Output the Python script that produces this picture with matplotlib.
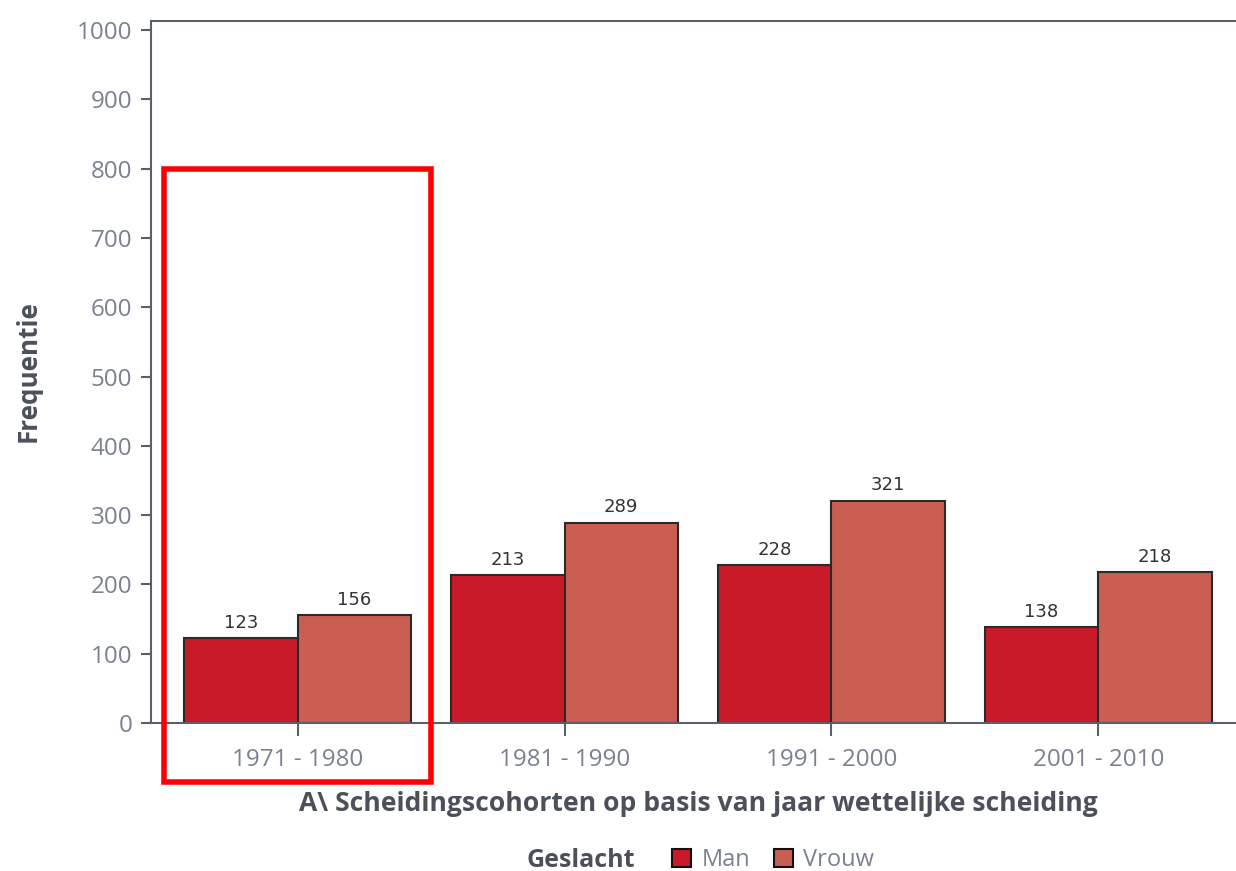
import matplotlib
matplotlib.use("Agg")
import matplotlib.pyplot as plt
from matplotlib.patches import Rectangle, Patch
import numpy as np

categories = ["1971 - 1980", "1981 - 1990", "1991 - 2000", "2001 - 2010"]
man = [123, 213, 228, 138]
vrouw = [156, 289, 321, 218]
series_names = ["Man", "Vrouw"]
yticks = [0, 100, 200, 300, 400, 500, 600, 700, 800, 900, 1000]

c_man = "#C91A2A"
c_vrouw = "#CB5E52"
edge = "#2a2a2a"
tick_col = "#7b8190"
label_col = "#4b505b"
spine_col = "#5a5f69"

fig = plt.figure(figsize=(12.36, 8.71), dpi=100)
ax = fig.add_axes([151/1236, (871-723)/871, (1245-151)/1236, (723-21)/871])

x = np.arange(len(categories))
w = 0.425
b1 = ax.bar(x - w/2, man, w, color=c_man, edgecolor=edge, linewidth=1.5)
b2 = ax.bar(x + w/2, vrouw, w, color=c_vrouw, edgecolor=edge, linewidth=1.5)

for bars, vals in ((b1, man), (b2, vrouw)):
    for r, v in zip(bars, vals):
        ax.text(r.get_x() + r.get_width()/2, v + 9, str(v), ha="center", va="bottom",
                fontsize=13, color="#333333", family="DejaVu Sans")

ax.set_xlim(-0.55, 3.55)
ax.set_ylim(0, 1013)
ax.set_yticks(yticks)
ax.set_xticks(x)
ax.set_xticklabels(categories)
ax.tick_params(axis="y", colors=spine_col, labelcolor=tick_col, labelsize=17.4, length=7, width=1.5, pad=6.5)
ax.tick_params(axis="x", colors=spine_col, labelcolor=tick_col, labelsize=17.4, length=9, width=1.5, pad=9)
for lab in ax.get_xticklabels() + ax.get_yticklabels():
    lab.set_family("Open Sans")

for s in ax.spines.values():
    s.set_color(spine_col)
    s.set_linewidth(1.5)

ax.set_xlabel("A\\ Scheidingscohorten op basis van jaar wettelijke scheiding", fontsize=19.1,
              fontweight="bold", color=label_col, family="Open Sans", labelpad=14)
fig.text(28/1236, 1 - 371/871, "Frequentie", rotation=90, ha="center", va="center",
         fontsize=18.7, fontweight="bold", color=label_col, family="Open Sans")

# legend
fig.text(581/1236, 1 - 860/871, "Geslacht", ha="center", va="center", fontsize=18,
         fontweight="bold", color=label_col, family="Open Sans")
handles = [Patch(facecolor=c_man, edgecolor="#111111", linewidth=1.5),
           Patch(facecolor=c_vrouw, edgecolor="#111111", linewidth=1.5)]
leg = fig.legend(handles, series_names, loc="center left", bbox_to_anchor=(672/1236, 1 - 860/871),
                 ncol=2, frameon=False, handlelength=0.8, handleheight=0.8, handletextpad=0.45,
                 columnspacing=1.0, borderaxespad=0, borderpad=0,
                 prop={"family": "Open Sans", "size": 17})
for t in leg.get_texts():
    t.set_color(tick_col)

# red highlight annotation
ax.add_patch(Rectangle((-0.5, -85), 1.0, 885, fill=False, edgecolor="#FF0000",
                       linewidth=4, clip_on=False, zorder=5))

fig.savefig("out.png", dpi=100)
